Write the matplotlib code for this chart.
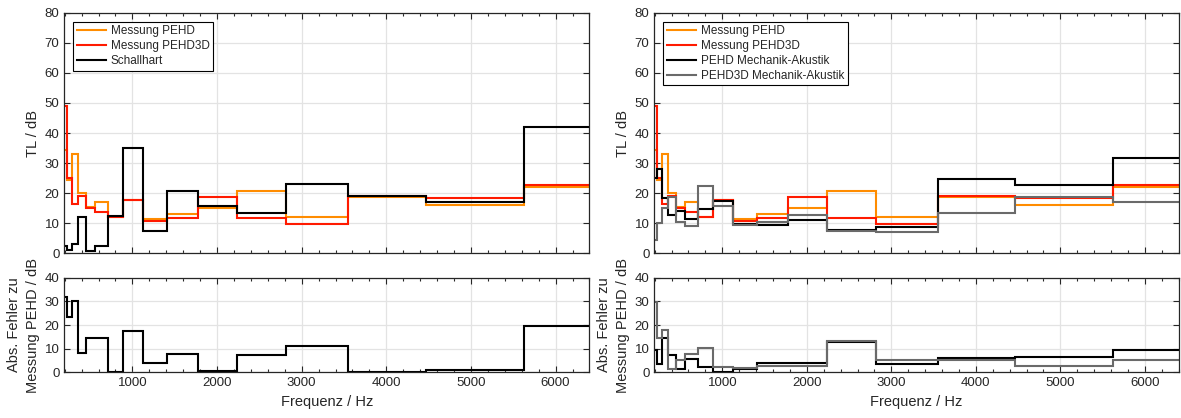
import numpy as np
import matplotlib
matplotlib.use("Agg")
import matplotlib.pyplot as plt
from matplotlib.ticker import MultipleLocator

plt.rcParams['font.family'] = ['Liberation Sans', 'DejaVu Sans']

# Third-octave bands (centre frequencies) and their band edges in Hz
band_centres = [200, 250, 315, 400, 500, 630, 800, 1000, 1250, 1600,
                2000, 2500, 3150, 4000, 5000, 6300]
band_edges = [178, 224, 282, 355, 447, 562, 708, 891, 1122, 1413, 1778,
              2239, 2818, 3548, 4467, 5623, 7079]

# Transmission loss in dB per band
tl_messung_pehd = [34.3, 24.4, 33.0, 20.2, 15.5, 17.0, 12.2, 17.7, 11.3, 13.2,
                   15.2, 20.8, 12.2, 18.6, 16.2, 22.2]
tl_messung_pehd3d = [49.0, 25.2, 16.4, 19.2, 15.0, 13.9, 12.0, 17.7, 10.7, 11.6,
                     18.8, 11.7, 9.9, 18.9, 18.5, 22.6]
tl_schallhart = [2.4, 1.2, 3.0, 12.0, 0.9, 2.4, 12.4, 35.1, 7.5, 20.8,
                 15.7, 13.3, 23.2, 18.9, 17.2, 41.9]
tl_pehd_ma = [24.9, 28.0, 18.3, 12.7, 14.1, 11.3, 14.6, 17.4, 9.8, 9.3,
              11.2, 7.8, 8.6, 24.8, 22.8, 31.8]
tl_pehd3d_ma = [4.4, 10.0, 15.0, 18.8, 10.3, 9.2, 22.4, 15.6, 9.4, 10.4,
                12.6, 7.5, 7.2, 13.5, 18.8, 17.0]

C_ORANGE = '#ff8c00'
C_RED = '#ff1a00'
C_BLACK = '#000000'
C_GRAY = '#6a6a6a'
C_AX = '#262626'

x_min, x_max = 195, 6400
LW = 1.5

fig = plt.figure(figsize=(11.81, 4.18), dpi=100)

top_y, top_h = 0.394, 0.5756
bot_y, bot_h = 0.1093, 0.2263
cols = [(0.0544, 0.4447), (0.554, 0.444)]


def style_axes(ax, ymax, ystep):
    ax.set_xlim(x_min, x_max)
    ax.set_ylim(0, ymax)
    ax.xaxis.set_major_locator(MultipleLocator(1000))
    ax.xaxis.set_minor_locator(MultipleLocator(200))
    ax.yaxis.set_major_locator(MultipleLocator(ystep))
    ax.grid(True, which='major', color='#e3e3e3', linewidth=0.9)
    ax.set_axisbelow(True)
    ax.tick_params(which='both', direction='in', top=True, right=True,
                   colors=C_AX, labelsize=9.5)
    ax.tick_params(which='major', length=4, width=0.8)
    ax.tick_params(which='minor', length=2.5, width=0.8)
    for s in ax.spines.values():
        s.set_color(C_AX)
        s.set_linewidth(0.9)


def err(model):
    return np.abs(np.array(model) - np.array(tl_messung_pehd))


panels = [
    [("Messung PEHD", tl_messung_pehd, C_ORANGE),
     ("Messung PEHD3D", tl_messung_pehd3d, C_RED),
     ("Schallhart", tl_schallhart, C_BLACK)],
    [("Messung PEHD", tl_messung_pehd, C_ORANGE),
     ("Messung PEHD3D", tl_messung_pehd3d, C_RED),
     ("PEHD Mechanik-Akustik", tl_pehd_ma, C_BLACK),
     ("PEHD3D Mechanik-Akustik", tl_pehd3d_ma, C_GRAY)],
]
error_series = [
    [(tl_schallhart, C_BLACK)],
    [(tl_pehd_ma, C_BLACK), (tl_pehd3d_ma, C_GRAY)],
]

for (x0, w), series, errs in zip(cols, panels, error_series):
    ax = fig.add_axes([x0, top_y, w, top_h])
    for label, vals, color in series:
        ax.stairs(vals, band_edges, baseline=None, color=color,
                  linewidth=LW, label=label)
    style_axes(ax, 80, 10)
    ax.tick_params(labelbottom=False)
    ax.set_ylabel("TL / dB", fontsize=10.5, color=C_AX, labelpad=3)
    leg_handles = [plt.Line2D([], [], color=c, linewidth=LW)
                   for _, _, c in series]
    leg = ax.legend(leg_handles, [s[0] for s in series], loc='upper left',
                    fontsize=8.5, frameon=True, fancybox=False,
                    edgecolor='black', framealpha=1, borderaxespad=0.75,
                    handlelength=2.5, handletextpad=0.4, labelspacing=0.25,
                    borderpad=0.3)
    leg.get_frame().set_linewidth(0.8)
    for t in leg.get_texts():
        t.set_color(C_AX)

    axb = fig.add_axes([x0, bot_y, w, bot_h])
    for vals, color in errs:
        axb.stairs(err(vals), band_edges, baseline=None, color=color,
                   linewidth=LW)
    style_axes(axb, 40, 10)
    axb.set_ylabel("Abs. Fehler zu\nMessung PEHD / dB", fontsize=10.5,
                   color=C_AX, labelpad=3, linespacing=1.45)
    axb.set_xlabel("Frequenz / Hz", fontsize=10.5, color=C_AX, labelpad=4)

fig.savefig("out.png", dpi=100)
